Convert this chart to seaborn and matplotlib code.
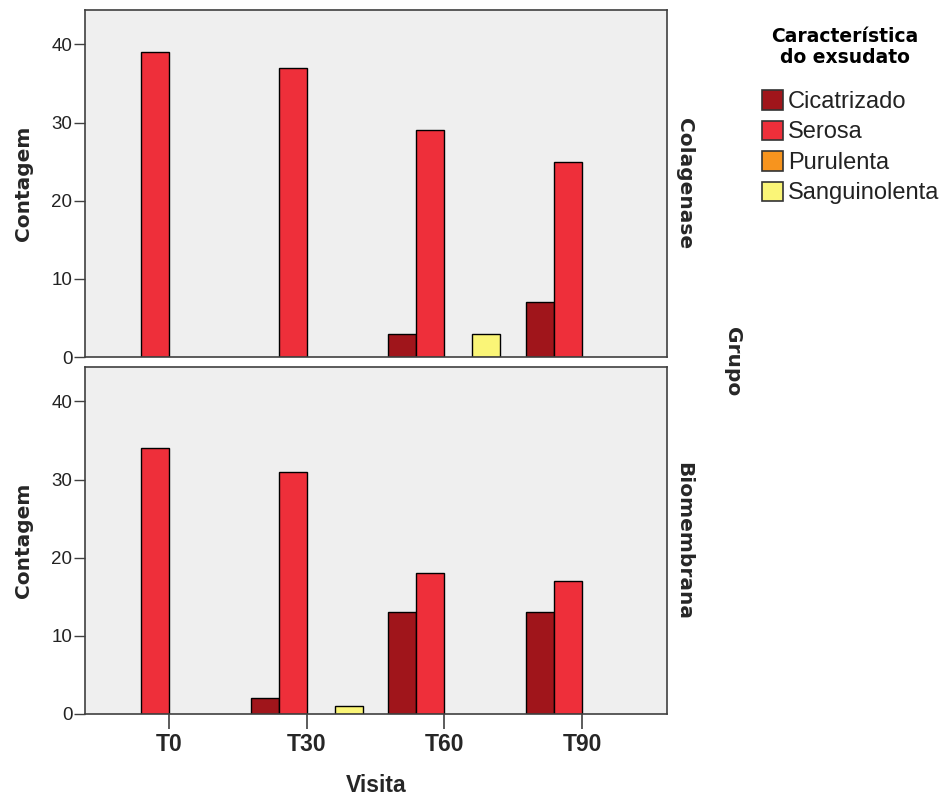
import matplotlib
matplotlib.use("Agg")
import matplotlib.pyplot as plt
from matplotlib.patches import Patch
import seaborn as sns
import pandas as pd

# ---- data ----
visitas = ["T0", "T30", "T60", "T90"]
categorias = ["Cicatrizado", "Serosa", "Purulenta", "Sanguinolenta"]
grupos = ["Colagenase", "Biomembrana"]

colagenase_cicatrizado = [0, 0, 3, 7]
colagenase_serosa = [39, 37, 29, 25]
colagenase_purulenta = [0, 0, 0, 0]
colagenase_sanguinolenta = [0, 0, 3, 0]

biomembrana_cicatrizado = [0, 2, 13, 13]
biomembrana_serosa = [34, 31, 18, 17]
biomembrana_purulenta = [0, 0, 0, 0]
biomembrana_sanguinolenta = [0, 1, 0, 0]

y_ticks = [0, 10, 20, 30, 40]
cores = ["#A0151B", "#EE2F3A", "#F7941E", "#FAF577"]

series = {
    "Colagenase": [colagenase_cicatrizado, colagenase_serosa,
                   colagenase_purulenta, colagenase_sanguinolenta],
    "Biomembrana": [biomembrana_cicatrizado, biomembrana_serosa,
                    biomembrana_purulenta, biomembrana_sanguinolenta],
}
rows = []
for g in grupos:
    for cat, vals in zip(categorias, series[g]):
        for v, n in zip(visitas, vals):
            rows.append({"Grupo": g, "Visita": v, "Caracteristica": cat, "Contagem": n})
df = pd.DataFrame(rows)

sns.set_theme(style="white")
plt.rcParams["font.family"] = ["Liberation Sans", "DejaVu Sans"]

W, H = 944, 800
fig = plt.figure(figsize=(W / 100, H / 100), dpi=100)
ax_top = fig.add_axes([85 / W, 1 - 357 / H, 582 / W, 347 / H])
ax_bot = fig.add_axes([85 / W, 1 - 714 / H, 582 / W, 347 / H])
palette = dict(zip(categorias, cores))

narrow = ["Liberation Sans Narrow", "Liberation Sans"]

for ax, g in zip([ax_top, ax_bot], grupos):
    sub = df[(df["Grupo"] == g) & (df["Contagem"] > 0)]
    sns.barplot(data=sub, x="Visita", y="Contagem", hue="Caracteristica",
                order=visitas, hue_order=categorias, palette=palette,
                width=0.814, edgecolor="black", linewidth=1.0,
                saturation=1, legend=False, ax=ax, errorbar=None)
    ax.set_facecolor("#EFEFEF")
    ax.set_xlim(-0.61, 3.617)
    ax.set_ylim(0, 44.4)
    ax.set_yticks(y_ticks)
    ax.set_xlabel("")
    ax.set_ylabel("")
    for s in ax.spines.values():
        s.set_color("#404040")
        s.set_linewidth(1.2)
    ax.tick_params(axis="y", direction="out", length=8, width=1,
                   color="#404040", labelsize=13.5, labelcolor="#222222", pad=1, left=True)
    for lab in ax.get_yticklabels():
        lab.set_family(narrow)

ax_top.tick_params(axis="x", bottom=False, labelbottom=False)
ax_bot.tick_params(axis="x", direction="out", length=11, width=1.2,
                   color="#404040", labelsize=16.5, pad=3, bottom=True)
for lab in ax_bot.get_xticklabels():
    lab.set_fontweight("bold")
    lab.set_family(narrow)

bold_font = ["DejaVu Sans"]
# y labels
fig.text(24 / W, 1 - 183.5 / H, "Contagem", rotation=90, ha="center", va="center",
         fontsize=14.5, fontweight="bold", family=bold_font)
fig.text(24 / W, 1 - 540.5 / H, "Contagem", rotation=90, ha="center", va="center",
         fontsize=14.5, fontweight="bold", family=bold_font)
# row labels
fig.text(684 / W, 1 - 183.5 / H, "Colagenase", rotation=-90, ha="center", va="center",
         fontsize=14.5, fontweight="bold", family=bold_font)
fig.text(684 / W, 1 - 540.5 / H, "Biomembrana", rotation=-90, ha="center", va="center",
         fontsize=14.5, fontweight="bold", family=bold_font)
fig.text(732 / W, 1 - 362 / H, "Grupo", rotation=-90, ha="center", va="center",
         fontsize=14.5, fontweight="bold", family=bold_font)
# x label
fig.text(376 / W, 1 - 786 / H, "Visita", ha="center", va="center",
         fontsize=16.5, fontweight="bold", family=narrow)

# legend
fig.text(845 / W, 1 - 47 / H, "Característica\ndo exsudato", ha="center", va="center",
         fontsize=13.5, fontweight="bold", family=bold_font, linespacing=1.1,
         color="black")
handles = [Patch(facecolor=c, edgecolor="#333333", linewidth=1.2) for c in cores]
leg = fig.legend(handles, categorias, loc="upper left",
                 bbox_to_anchor=(762 / W, 1 - 90 / H), frameon=False,
                 prop={"family": "Liberation Sans", "size": 17},
                 handlelength=0.9, handleheight=0.9, handletextpad=0.2,
                 labelspacing=0.32, borderaxespad=0, borderpad=0)
for t in leg.get_texts():
    t.set_color("#222222")

fig.savefig("out.png", dpi=100)
